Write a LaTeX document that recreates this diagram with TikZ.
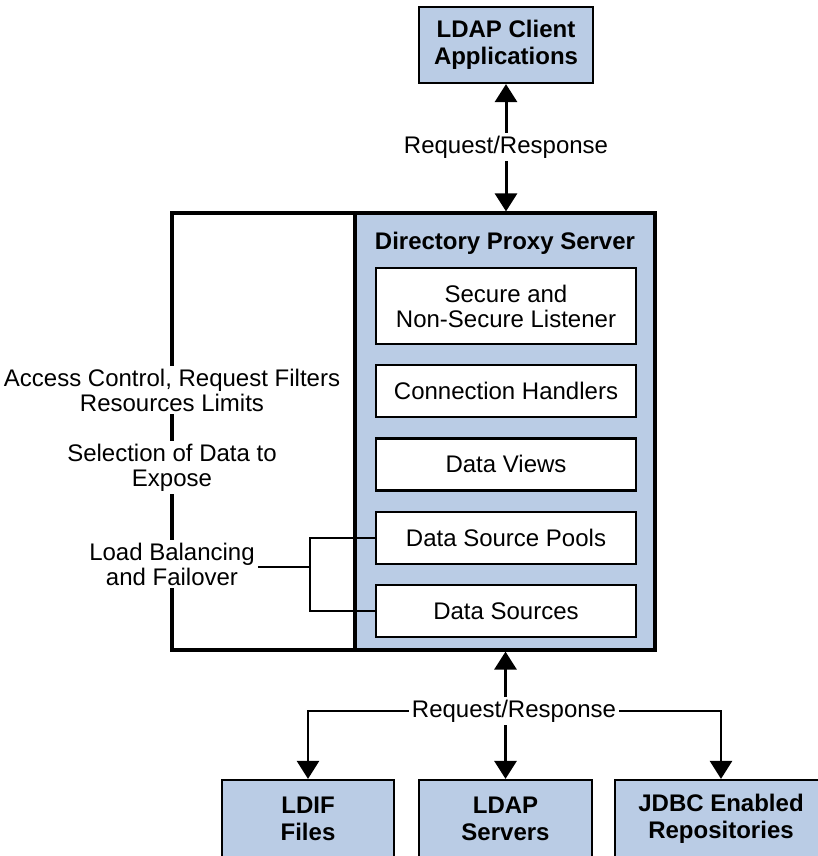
\documentclass[tikz,border=0pt]{standalone}
\usepackage{fontspec}
\setmainfont{Liberation Sans}
\usetikzlibrary{arrows.meta,positioning}
\definecolor{boxblue}{RGB}{186,204,229}

\begin{document}
\begin{tikzpicture}[x=1pt,y=-1pt,
	font=\fontsize{24}{25}\selectfont,
	bbox/.style={draw,fill=boxblue,line width=2.2pt,align=center,
		font=\fontsize{24}{27}\selectfont\bfseries},
	wbox/.style={draw,fill=white,line width=2.2pt,minimum width=260pt,
		minimum height=52pt,align=center},
	frame/.style={line width=3.2pt},
	brk/.style={line width=2pt},
	lbl/.style={fill=white,align=center,inner sep=3pt},
	arr/.style={line width=3pt,-{Triangle[length=18pt,width=22pt]}}]
	
	\useasboundingbox (0,0) rectangle (817,856);
	
	% Proxy server body
	\node[draw,fill=boxblue,line width=3.2pt,outer sep=0pt,minimum width=300pt,
		minimum height=437pt] (dps) at (505,431.5) {};
	\node[font=\fontsize{24}{25}\selectfont\bfseries] (title) at (505,243) {Directory Proxy Server};
	
	% Layers inside the server
	\node[wbox,minimum height=76pt] (listen) at (506,306) {Secure and\\Non-Secure Listener};
	\node[wbox,below=19pt of listen] (handler) {Connection Handlers};
	\node[wbox,below=19pt of handler] (views) {Data Views};
	\node[wbox,below=19pt of views] (pools) {Data Source Pools};
	\node[wbox,below=19pt of pools] (srcs) {Data Sources};
	
	% Left frame with its labels
	\coordinate (fnw) at (172,213);
	\coordinate (fsw) at (172,650);
	\draw[frame] (dps.north west) -- (fnw) -- (fsw) -- (dps.south west);
	\node[lbl] (acl) at (172,390) {Access Control, Request Filters\\Resources Limits};
	\node[lbl] (sel) at (172,467.5) {Selection of Data to\\Expose};
	\node[lbl] (lbf) at (172,564) {Load Balancing\\and Failover};
	
	% Bracket to the pools and sources
	\coordinate (bj) at (310,567);
	\draw[brk] (lbf.east |- bj) -- (bj);
	\draw[brk] (pools.west) -| (bj);
	\draw[brk] (srcs.west) -| (bj);
	
	% Client side
	\node[bbox,minimum width=174pt,minimum height=76pt] (client) at (506,45) {LDAP Client\\Applications};
	\node[lbl] (rr1) at (506,147) {Request/Response};
	\draw[arr] (rr1.north) -- (client.south);
	\draw[arr,shorten >=1.6pt] (rr1.south) -- (rr1.south |- dps.north);
	
	% Back ends
	\node[bbox,minimum width=172pt,minimum height=78pt] (ldif) at (308,819) {LDIF\\Files};
	\node[bbox,minimum width=173pt,minimum height=78pt] (ldap) at (505.5,819) {LDAP\\Servers};
	\node[bbox,minimum width=212pt,minimum height=78pt] (jdbc) at (721,819) {JDBC Enabled\\Repositories};
	\node[lbl] (rr2) at (514,711) {Request/Response};
	\draw[arr,shorten >=1.6pt] (ldap.north |- rr2.north) -- (ldap.north |- dps.south);
	\draw[arr] (ldap.north |- rr2.south) -- (ldap.north);
	\draw[arr,line width=2.6pt] (rr2.west) -| (ldif.north);
	\draw[arr,line width=2.6pt] (rr2.east) -| (jdbc.north);
	
\end{tikzpicture}
\end{document}
